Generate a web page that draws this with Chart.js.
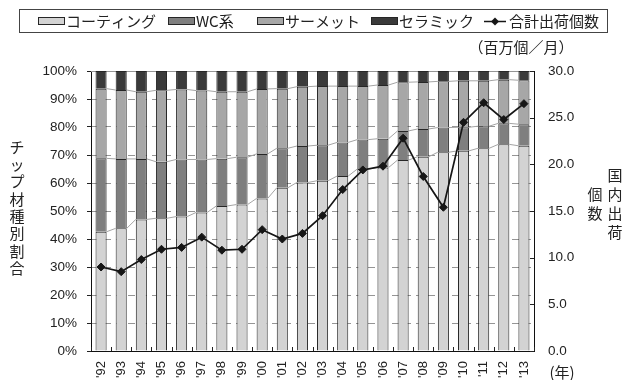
<!DOCTYPE html>
<html>
<head>
<meta charset="utf-8">
<script src="https://cdn.jsdelivr.net/npm/chart.js@4.4.1/dist/chart.umd.min.js"></script>
<style>
  html, body { margin: 0; padding: 0; background: #fff; }
  #wrap { width: 624px; height: 380px; position: relative; }
</style>
</head>
<body>
<div id="wrap"><canvas id="c" width="624" height="380"></canvas></div>
<script>
// Years on the category axis
const years = ["'92","'93","'94","'95","'96","'97","'98","'99","'00","'01","'02",
               "'03","'04","'05","'06","'07","'08","'09","'10","'11","'12","'13"];

// Share of each chip grade (%), stacked to 100
const coating = [42.6,43.8,47.0,47.4,48.0,49.5,51.8,52.3,54.5,58.3,60.2,
                 60.8,62.5,65.0,65.5,68.2,69.4,71.0,71.5,72.4,73.8,73.3];
const wcGrade = [26.2,24.8,21.6,20.2,20.4,18.9,16.9,16.9,15.9,14.1,13.0,
                 12.7,12.0,10.5,10.3,10.4, 9.9, 8.8, 8.4, 7.9, 7.5, 7.7];
const cermet  = [24.9,24.6,24.0,25.5,25.0,24.6,23.9,23.4,23.2,21.3,21.2,
                 21.1,20.1,19.1,19.2,17.4,16.8,16.5,16.6,16.2,15.6,15.7];
const ceramic = [ 6.3, 6.8, 7.4, 6.9, 6.6, 7.0, 7.4, 7.4, 6.4, 6.3, 5.6,
                  5.4, 5.4, 5.4, 5.0, 4.0, 3.9, 3.7, 3.5, 3.5, 3.1, 3.3];

// Total domestic shipments (million pieces / month)
const totalShipments = [9.0,8.5,9.8,10.9,11.1,12.2,10.8,10.9,13.0,12.0,12.6,
                        14.5,17.3,19.4,19.8,22.8,18.7,15.4,24.5,26.6,24.8,26.5];

// Axis ranges and labels
const pctMax = 100, pctStep = 10;
const qtyMax = 30, qtyStep = 5;
const seriesNames = ['コーティング', 'WC系', 'サーメット', 'セラミック', '合計出荷個数'];
const leftTitle = 'チップ材種別割合';
const rightTitleCols = ['国内出荷', '個数'];
const unitText = '（百万個／月）';
const yearText = '(年)';

const fontJP = "'Noto Sans CJK JP', 'Noto Sans', sans-serif";
const fontNum = "'Liberation Sans', Arial, sans-serif";
const palette = {
  coating: '#d3d3d3', wc: '#7f7f7f', cermet: '#a7a7a7', ceramic: '#3a3a3a',
  edge: '#262626', line: '#161616', grid: '#959595', seriesLine: '#a4a4a4'
};

const barSeries = [
  { label: seriesNames[0], data: coating, backgroundColor: palette.coating },
  { label: seriesNames[1], data: wcGrade, backgroundColor: palette.wc },
  { label: seriesNames[2], data: cermet,  backgroundColor: palette.cermet },
  { label: seriesNames[3], data: ceramic, backgroundColor: palette.ceramic }
].map(d => Object.assign({
  type: 'bar', yAxisID: 'y', order: 2,
  borderColor: palette.edge, borderWidth: 1,
  barPercentage: 0.55, categoryPercentage: 1.0
}, d));

const lineSeries = {
  type: 'line', label: seriesNames[4], data: totalShipments, yAxisID: 'y1', order: 0,
  borderColor: palette.line, borderWidth: 1.7, tension: 0,
  pointStyle: 'rectRot', pointRadius: 4, pointBackgroundColor: palette.line,
  pointBorderColor: palette.line, pointBorderWidth: 1
};

// Connector lines between stacked segments, inner ticks, titles and legend
const decor = {
  id: 'decor',
  beforeDatasetsDraw(chart) {
    const { ctx, chartArea, scales } = chart;
    ctx.save();
    // solid top line of the plot area
    const yTop = scales.y.getPixelForValue(pctMax);
    ctx.strokeStyle = palette.grid;
    ctx.lineWidth = 1;
    ctx.beginPath();
    ctx.moveTo(chartArea.left, Math.round(yTop) + 0.5);
    ctx.lineTo(chartArea.right, Math.round(yTop) + 0.5);
    ctx.stroke();
    // series lines joining the segment boundaries of neighbouring bars
    ctx.strokeStyle = palette.seriesLine;
    for (let k = 0; k < 3; k++) {
      const bars = chart.getDatasetMeta(k).data;
      ctx.beginPath();
      for (let i = 0; i < bars.length - 1; i++) {
        const a = bars[i], b = bars[i + 1];
        ctx.moveTo(a.x + a.width / 2, a.y);
        ctx.lineTo(b.x - b.width / 2, b.y);
      }
      ctx.stroke();
    }
    ctx.restore();
  },
  afterDraw(chart) {
    const { ctx, chartArea, scales } = chart;
    ctx.save();
    ctx.strokeStyle = '#222';
    ctx.lineWidth = 1;
    // inner ticks between categories on the year axis
    ctx.beginPath();
    for (let i = 0; i <= years.length; i++) {
      const x = Math.round(scales.x.getPixelForValue(i - 0.5)) + 0.5;
      ctx.moveTo(x, chartArea.bottom);
      ctx.lineTo(x, chartArea.bottom - 4);
    }
    // inner ticks on the quantity axis
    scales.y1.ticks.forEach(t => {
      const y = Math.round(scales.y1.getPixelForValue(t.value)) + 0.5;
      ctx.moveTo(chartArea.right, y);
      ctx.lineTo(chartArea.right - 4, y);
    });
    ctx.stroke();

    // axis titles written vertically
    ctx.fillStyle = '#222';
    ctx.textAlign = 'center';
    ctx.textBaseline = 'middle';
    ctx.font = '15px ' + fontJP;
    [...leftTitle].forEach((ch, i) => ctx.fillText(ch, 17, 147 + i * 17.3));
    [...rightTitleCols[0]].forEach((ch, i) => ctx.fillText(ch, 615, 175 + i * 19));
    [...rightTitleCols[1]].forEach((ch, i) => ctx.fillText(ch, 595, 194 + i * 19));
    ctx.fillText(unitText, 521, 47);
    ctx.fillText(yearText, 562, 372);

    // legend box
    ctx.strokeStyle = '#444';
    ctx.strokeRect(19.5, 9.5, 588, 23);
    const legendX = [38, 168, 257, 371, 484];
    const fills = [palette.coating, palette.wc, palette.cermet, palette.ceramic];
    const ly = 21;
    ctx.textAlign = 'left';
    ctx.font = '15px ' + fontJP;
    legendX.forEach((x0, i) => {
      if (i < 4) {
        ctx.fillStyle = fills[i];
        ctx.fillRect(x0, ly - 4, 27, 8);
        ctx.strokeStyle = palette.edge;
        ctx.strokeRect(x0 + 0.5, ly - 3.5, 26, 7);
        ctx.fillStyle = '#222';
        ctx.fillText(seriesNames[i], x0 + 28, ly + 0.5);
      } else {
        ctx.strokeStyle = palette.line;
        ctx.lineWidth = 1.5;
        ctx.beginPath();
        ctx.moveTo(x0, ly + 0.5);
        ctx.lineTo(x0 + 22, ly + 0.5);
        ctx.stroke();
        ctx.fillStyle = palette.line;
        ctx.beginPath();
        ctx.moveTo(x0 + 11, ly - 3.5);
        ctx.lineTo(x0 + 15, ly + 0.5);
        ctx.lineTo(x0 + 11, ly + 4.5);
        ctx.lineTo(x0 + 7, ly + 0.5);
        ctx.closePath();
        ctx.fill();
        ctx.fillStyle = '#222';
        ctx.fillText(seriesNames[i], x0 + 25, ly + 0.5);
      }
    });
    ctx.restore();
  }
};

new Chart(document.getElementById('c'), {
  data: { labels: years, datasets: [...barSeries, lineSeries] },
  options: {
    responsive: false,
    devicePixelRatio: 1,
    animation: false,
    layout: { padding: { top: 71, left: 0, right: 0, bottom: 0 } },
    plugins: { legend: { display: false }, tooltip: { enabled: false } },
    scales: {
      x: {
        stacked: true,
        grid: { display: false, drawTicks: false },
        border: { display: true, color: '#111', width: 1 },
        ticks: {
          autoSkip: false, minRotation: 90, maxRotation: 90, padding: 10,
          color: '#222', font: { family: fontNum, size: 13 }
        },
        afterFit(s) { s.height = 29; }
      },
      y: {
        stacked: true, min: 0, max: pctMax,
        ticks: {
          stepSize: pctStep, padding: 10, color: '#222',
          font: { family: fontNum, size: 13.5 },
          callback: v => v + '%'
        },
        grid: {
          color: c => (c.tick && (c.tick.value === 0 || c.tick.value === pctMax)) ? 'rgba(0,0,0,0)' : palette.grid,
          lineWidth: 1, drawTicks: true, tickLength: 4, tickColor: '#222', tickBorderDash: []
        },
        border: { display: true, color: '#111', width: 1, dash: [7, 5] },
        afterFit(s) { s.width = 91; }
      },
      y1: {
        position: 'right', min: 0, max: qtyMax,
        ticks: {
          stepSize: qtyStep, padding: 14, color: '#222',
          font: { family: fontNum, size: 13.5 },
          callback: v => v.toFixed(1)
        },
        grid: { display: false, drawTicks: false, drawOnChartArea: false },
        border: { display: true, color: '#111', width: 1 },
        afterFit(s) { s.width = 90; }
      }
    }
  },
  plugins: [decor]
});
</script>
</body>
</html>
